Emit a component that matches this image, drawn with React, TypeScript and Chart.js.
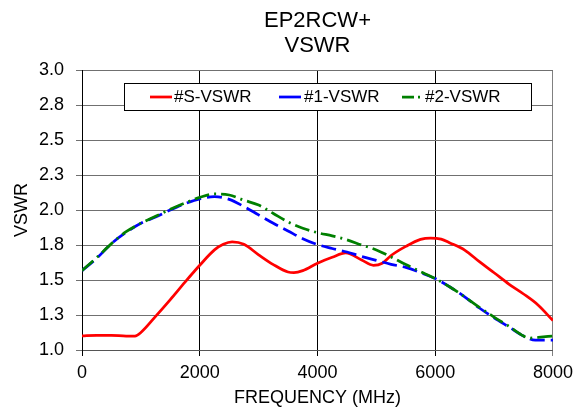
import React, { useEffect, useRef } from "react";
import { Chart, registerables } from "chart.js";

Chart.register(...registerables);

const titleLines = ["EP2RCW+", "VSWR"];
const xAxisTitle = "FREQUENCY (MHz)";
const yAxisTitle = "VSWR";
const xTickValues = [0, 2000, 4000, 6000, 8000];
const yTickValues = [1.0, 1.25, 1.5, 1.75, 2.0, 2.25, 2.5, 2.75, 3.0];
const yTickLabels = ["1.0", "1.3", "1.5", "1.8", "2.0", "2.3", "2.5", "2.8", "3.0"];

const seriesNames = ["#S-VSWR", "#1-VSWR", "#2-VSWR"];

const freqS = [0, 250, 500, 750, 900, 1000, 1250, 1500, 1750, 2000, 2250, 2400, 2550, 2750, 3000, 3250, 3500, 3600, 3750, 4000, 4250, 4480, 4750, 4950, 5100, 5250, 5500, 5750, 5920, 6100, 6250, 6500, 6750, 7000, 7250, 7500, 7750, 8000];
const vswrS = [1.10, 1.105, 1.105, 1.10, 1.10, 1.125, 1.24, 1.36, 1.485, 1.605, 1.715, 1.755, 1.772, 1.755, 1.68, 1.61, 1.557, 1.553, 1.567, 1.62, 1.662, 1.693, 1.643, 1.605, 1.62, 1.675, 1.74, 1.79, 1.80, 1.792, 1.765, 1.714, 1.631, 1.552, 1.471, 1.40, 1.32, 1.21];

const freq1 = [0, 250, 500, 750, 1000, 1250, 1500, 1750, 2000, 2250, 2500, 2750, 3000, 3250, 3500, 3750, 4000, 4250, 4500, 4750, 5000, 5250, 5500, 5750, 6000, 6250, 6500, 6750, 7000, 7250, 7500, 7700, 8000];
const vswr1 = [1.567, 1.655, 1.76, 1.84, 1.905, 1.95, 2.0, 2.045, 2.08, 2.095, 2.076, 2.025, 1.965, 1.905, 1.85, 1.795, 1.753, 1.725, 1.70, 1.668, 1.64, 1.612, 1.59, 1.553, 1.51, 1.45, 1.38, 1.30, 1.23, 1.165, 1.10, 1.07, 1.07];

const freq2 = [0, 250, 500, 750, 1000, 1250, 1500, 1750, 2000, 2250, 2500, 2750, 3000, 3250, 3500, 3750, 4000, 4250, 4500, 4750, 5000, 5250, 5500, 5750, 6000, 6250, 6500, 6750, 7000, 7250, 7500, 7600, 7750, 8000];
const vswr2 = [1.567, 1.66, 1.76, 1.845, 1.905, 1.955, 2.005, 2.05, 2.09, 2.115, 2.107, 2.07, 2.035, 1.975, 1.915, 1.87, 1.838, 1.815, 1.787, 1.75, 1.715, 1.665, 1.61, 1.56, 1.51, 1.45, 1.38, 1.305, 1.235, 1.17, 1.10, 1.085, 1.09, 1.10];

const FONT = "'Liberation Sans', Arial, sans-serif";
const colors = ["#ff0000", "#0000ff", "#008000"];
const dashes: number[][] = [[], [15, 6], [15, 5, 2, 5]];

const toPoints = (xs: number[], ys: number[]) => xs.map((x, i) => ({ x, y: ys[i] }));

const titlePlugin = {
  id: "customTitle",
  afterDraw(chart: any) {
    const { ctx, chartArea } = chart;
    const cx = (chartArea.left + chartArea.right) / 2;
    ctx.save();
    ctx.fillStyle = "#000";
    ctx.font = `22px ${FONT}`;
    ctx.textAlign = "center";
    ctx.textBaseline = "middle";
    ctx.fillText(titleLines[0], cx, 21);
    ctx.fillText(titleLines[1], cx, 45.5);
    ctx.restore();
  },
};

const legendPlugin = {
  id: "customLegend",
  afterDraw(chart: any) {
    const { ctx } = chart;
    ctx.save();
    ctx.fillStyle = "#fff";
    ctx.fillRect(124.5, 83.5, 407, 27);
    ctx.strokeStyle = "#000";
    ctx.lineWidth = 1;
    ctx.strokeRect(124.5, 83.5, 407, 27);
    const samples = [150, 279, 402];
    const texts = [174, 304, 425];
    const cy = 97;
    ctx.font = `17px ${FONT}`;
    ctx.textBaseline = "middle";
    ctx.textAlign = "left";
    for (let i = 0; i < 3; i++) {
      ctx.strokeStyle = colors[i];
      ctx.lineWidth = 2.75;
      ctx.setLineDash(i === 0 ? [] : i === 1 ? [22, 0] : [12, 4, 2, 4]);
      ctx.beginPath();
      ctx.moveTo(samples[i], cy);
      ctx.lineTo(samples[i] + 22, cy);
      ctx.stroke();
      ctx.setLineDash([]);
      ctx.fillStyle = "#000";
      ctx.fillText(seriesNames[i], texts[i], cy);
    }
    ctx.restore();
  },
};

export default function App() {
  const canvasRef = useRef<HTMLCanvasElement | null>(null);

  useEffect(() => {
    if (!canvasRef.current) return;
    const series = [toPoints(freqS, vswrS), toPoints(freq1, vswr1), toPoints(freq2, vswr2)];
    const chart = new Chart(canvasRef.current, {
      type: "line",
      data: {
        datasets: series.map((d, i) => ({
          label: seriesNames[i],
          data: d,
          borderColor: colors[i],
          backgroundColor: colors[i],
          borderWidth: 2.75,
          borderDash: dashes[i],
          pointRadius: 0,
          fill: false,
          cubicInterpolationMode: "monotone" as const,
          order: 3 - i,
        })),
      },
      plugins: [titlePlugin, legendPlugin],
      options: {
        animation: false,
        responsive: false,
        devicePixelRatio: 1,
        layout: { padding: { top: 70, right: 23, left: 0, bottom: 0 } },
        plugins: {
          legend: { display: false },
          title: { display: false },
          tooltip: { enabled: false },
        },
        scales: {
          x: {
            type: "linear",
            min: 0,
            max: 8000,
            afterFit: (s: any) => {
              s.height = 57;
            },
            afterBuildTicks: (s: any) => {
              s.ticks = xTickValues.map((v) => ({ value: v }));
            },
            ticks: {
              color: "#000",
              font: { family: FONT, size: 18 },
              padding: 6,
              maxRotation: 0,
              callback: (v: any) => String(v),
            },
            grid: {
              color: (c: any) => (c.index === xTickValues.length - 1 ? "#808080" : "#000"),
              lineWidth: 1,
              tickLength: 6,
            },
            border: { display: true, color: "#555", width: 1 },
            title: {
              display: true,
              text: xAxisTitle,
              color: "#000",
              font: { family: FONT, size: 18, lineHeight: 1 },
              padding: 0,
            },
          },
          y: {
            type: "linear",
            min: 1,
            max: 3,
            afterFit: (s: any) => {
              s.width = 82;
            },
            afterBuildTicks: (s: any) => {
              s.ticks = yTickValues.map((v) => ({ value: v }));
            },
            ticks: {
              color: "#000",
              font: { family: FONT, size: 18 },
              padding: 12,
              callback: (_v: any, i: number) => yTickLabels[i],
            },
            grid: {
              color: "#707070",
              lineWidth: 1,
              tickLength: 6,
            },
            border: { display: true, color: "#000", width: 1 },
            title: {
              display: true,
              text: yAxisTitle,
              color: "#000",
              font: { family: FONT, size: 18, lineHeight: 1.2 },
              padding: { top: 11, bottom: 0 },
            },
          },
        },
      },
    });
    return () => chart.destroy();
  }, []);

  return (
    <div style={{ position: "fixed", left: 0, top: 0, width: 579, height: 407, background: "#fff" }}>
      <canvas ref={canvasRef} width={579} height={407} style={{ width: 579, height: 407, display: "block" }} />
    </div>
  );
}
